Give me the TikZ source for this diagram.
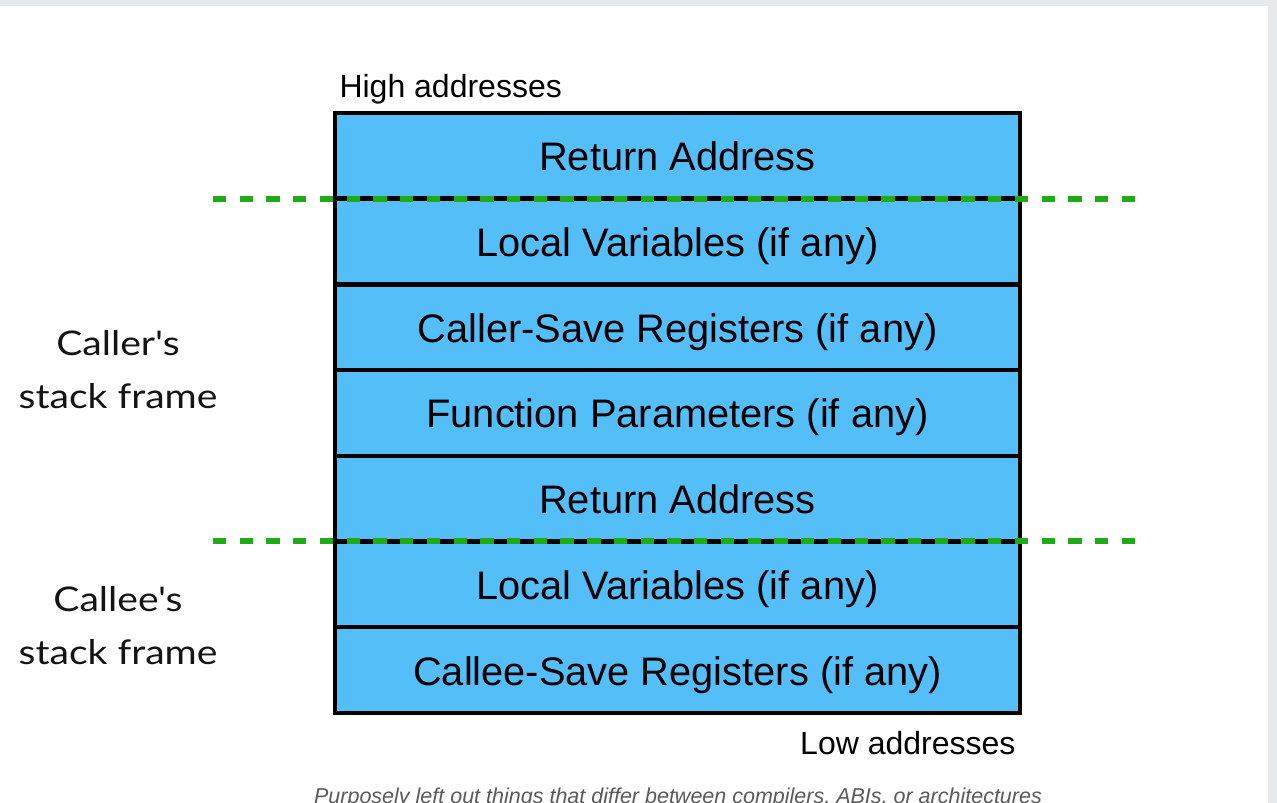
\documentclass[tikz,border=0pt]{standalone}
\usepackage{fontspec}
\setmainfont{Liberation Sans}
\newfontfamily\sidefont{Lato}[FakeStretch=1.15]
\definecolor{stackblue}{RGB}{84,190,249}
\definecolor{divgreen}{RGB}{30,172,22}
\definecolor{pagegray}{RGB}{232,233,236}
\definecolor{notegray}{RGB}{90,90,90}
\begin{document}
\begin{tikzpicture}[x=1pt,y=-1pt,
  rowbox/.style={draw=black,line width=4.5pt,fill=stackblue,minimum width=685pt,minimum height=85.7pt,inner sep=0pt,
    text height=30pt,text depth=0pt,font=\fontsize{39.8}{44}\selectfont,anchor=center},
  sidelabel/.style={align=center,font=\sidefont\fontsize{34}{53}\selectfont,text=black!92},
  addr/.style={font=\fontsize{32}{36}\selectfont},
  divider/.style={draw=divgreen,line width=6pt,dash pattern=on 13.3pt off 13.43pt}]
\useasboundingbox (0,0) rectangle (1277,803);
\fill[pagegray] (0,0) rectangle (1277,803);
\fill[white] (0,6) rectangle (1268,803);
\foreach \i/\t in {0/Return Address,1/Local Variables (if any),2/Caller-Save Registers (if any),3/Function Parameters (if any),4/Return Address,5/Local Variables (if any),6/Callee-Save Registers (if any)}{
  \node[rowbox] (r\i) at (677.5,{113+85.7*(\i+0.5)}) {\t};
}
\node[addr,anchor=base west] (high) at (336,97) {High addresses};
\node[addr,anchor=base east] (low) at (1019,754) {Low addresses};
\node[sidelabel] (caller) at (118,370) {Caller's\\stack frame};
\node[sidelabel] (callee) at (118,626) {Callee's\\stack frame};
\coordinate (d1l) at (213,198.7);
\coordinate (d1r) at (1136,198.7);
\coordinate (d2l) at (213,541.2);
\coordinate (d2r) at (1136,541.2);
\draw[divider] (d1l) -- (d1r);
\draw[divider] (d2l) -- (d2r);
\node[font=\itshape\fontsize{21.5}{24}\selectfont,text=notegray,anchor=base] (note) at (678,803) {Purposely left out things that differ between compilers, ABIs, or architectures};
\end{tikzpicture}
\end{document}
